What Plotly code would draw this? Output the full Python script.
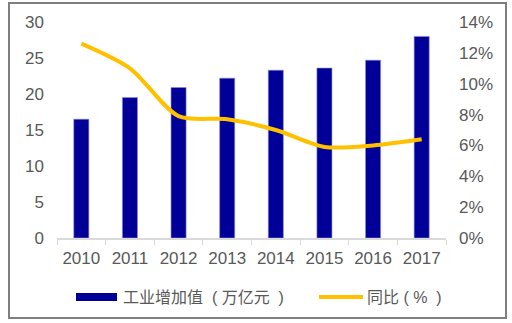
import plotly.graph_objects as go

years = ["2010", "2011", "2012", "2013", "2014", "2015", "2016", "2017"]
value_added = [16.5, 19.5, 20.9, 22.2, 23.3, 23.6, 24.7, 28.0]
yoy_growth = [12.6, 11.0, 7.9, 7.7, 7.0, 5.9, 6.0, 6.4]
bar_name = "工业增加值\u00a0\u00a0(\u00a0万亿元\u00a0\u00a0)"
line_name = "同比\u00a0(\u00a0%\u00a0\u00a0)"

NAVY = "#000099"
GOLD = "#FFC000"
GRAY = "#595959"
FONT = "Liberation Sans, Arial, Noto Sans CJK SC, sans-serif"
LEG_FONT = "Liberation Sans, Noto Sans CJK SC, sans-serif"

# plot area in pixels: x 57..446, y 22..238
L, R, T, B = 57, 446, 22, 238
W, H = R - L, B - T
def px(x):
    return (x - L) / W
def py(y):
    return (B - y) / H

fig = go.Figure()
fig.add_trace(go.Bar(x=years, y=value_added, name=bar_name,
                     marker=dict(color=NAVY, line=dict(color="#8a8ad6", width=0.6)),
                     showlegend=False, yaxis="y"))
fig.add_trace(go.Scatter(x=years, y=yoy_growth, name=line_name, mode="lines", showlegend=False,
                         line=dict(color=GOLD, width=4, shape="spline", smoothing=0.8), yaxis="y2"))

shapes = [
    dict(type="rect", xref="paper", yref="paper", x0=px(9), x1=px(506), y0=py(318), y1=py(3),
         line=dict(color="#7f7f7f", width=2)),
    dict(type="line", xref="paper", yref="paper", x0=px(76), x1=px(117), y0=py(297), y1=py(297),
         line=dict(color=NAVY, width=8)),
    dict(type="line", xref="paper", yref="paper", x0=px(319), x1=px(363), y0=py(297), y1=py(297),
         line=dict(color=GOLD, width=4)),
]
annotations = [
    dict(text=bar_name, xref="paper", yref="paper", x=px(121), y=py(297), xanchor="left", yanchor="middle",
         showarrow=False, font=dict(family=LEG_FONT, size=16, color=GRAY)),
    dict(text=line_name, xref="paper", yref="paper", x=px(365), y=py(297), xanchor="left", yanchor="middle",
         showarrow=False, font=dict(family=LEG_FONT, size=16, color=GRAY)),
]

fig.update_layout(
    width=512, height=323,
    margin=dict(l=L, r=512 - R, t=T, b=323 - B),
    paper_bgcolor="white", plot_bgcolor="white",
    font=dict(family=FONT, size=17, color=GRAY),
    bargap=0.69,
    showlegend=False,
    xaxis=dict(showline=True, linecolor="#d9d9d9", linewidth=1.5, ticks="outside", tickcolor="#d9d9d9",
               ticklen=5, tickson="boundaries", showgrid=False, tickfont=dict(size=17, color=GRAY),
               ticklabelstandoff=4),
    yaxis=dict(range=[0, 30], dtick=5, showgrid=False, zeroline=False, showline=False,
               ticklabelstandoff=12, tickfont=dict(size=17, color=GRAY)),
    yaxis2=dict(range=[0, 14], dtick=2, overlaying="y", side="right", showgrid=False, zeroline=False,
                ticksuffix="%", ticklabelstandoff=12, tickfont=dict(size=17, color=GRAY)),
    shapes=shapes,
    annotations=annotations,
)

fig.write_html("out.html")
